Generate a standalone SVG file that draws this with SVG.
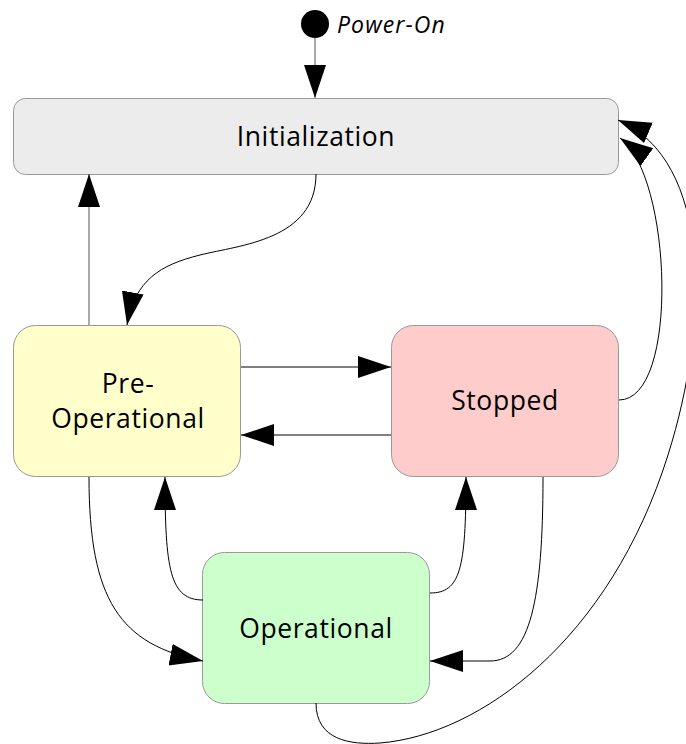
<svg xmlns="http://www.w3.org/2000/svg" width="686" height="744" viewBox="0 0 686 744">
<style>
.node{stroke:#999;stroke-width:1}
.lbl{font-family:"Open Sans","DejaVu Sans",sans-serif;font-size:26.5px;letter-spacing:0.6px;fill:#000;text-anchor:middle}
.edge{fill:none;stroke:#000;stroke-width:1;marker-end:url(#ah)}
.gray{stroke:#555}
</style>
<defs>
<marker id="ah" markerUnits="userSpaceOnUse" markerWidth="34" markerHeight="24" refX="33" refY="11" orient="auto" viewBox="0 0 34 24">
<path d="M0,0 L33,11 L0,22 z" fill="#000"/>
</marker>
</defs>
<g id="start">
<circle cx="315" cy="24" r="14" fill="#000"/>
<text x="337" y="33" font-family="Open Sans, DejaVu Sans, sans-serif" font-size="23" letter-spacing="1.1" font-style="italic">Power-On</text>
</g>
<g id="initialization">
<rect class="node" x="13.5" y="98.5" width="605" height="76" rx="12" fill="#ececec"/>
<text class="lbl" x="316" y="146">Initialization</text>
</g>
<g id="preoperational">
<rect class="node" x="13.5" y="325.5" width="227" height="151" rx="22" fill="#ffffcc"/>
<text class="lbl" x="128" y="393">Pre-</text>
<text class="lbl" x="128" y="428">Operational</text>
</g>
<g id="stopped">
<rect class="node" x="391.5" y="325.5" width="227" height="151" rx="22" fill="#ffcccc"/>
<text class="lbl" x="505" y="410">Stopped</text>
</g>
<g id="operational">
<rect class="node" x="202.5" y="552.5" width="227" height="151" rx="22" fill="#ccffcc"/>
<text class="lbl" x="316" y="638">Operational</text>
</g>
<g id="connectors">
<path class="edge gray" d="M315,38 L315,98"/>
<path class="edge gray" d="M89,325 L89,174"/>
<path class="edge" d="M316,174 C316,240 240,245 200,255 S135,280 127,325"/>
<path class="edge" d="M241,367 L391,367"/>
<path class="edge" d="M391,435 L241,435"/>
<path class="edge" d="M619,400 C680,400 672,175 620,138"/>
<path class="edge" d="M316,703 C316,740 350,745 380,743 C480,735 610,640 668,455 C710,322 712,160 618,120"/>
<path class="edge" d="M89,477 C89,600 120,645 203,661"/>
<path class="edge" d="M203,600 C170,600 165,570 165,477"/>
<path class="edge" d="M430,593 C460,593 466,570 466,477"/>
<path class="edge" d="M543,477 C543,600 530,661 490,661 L430,661"/>
</g>
</svg>
